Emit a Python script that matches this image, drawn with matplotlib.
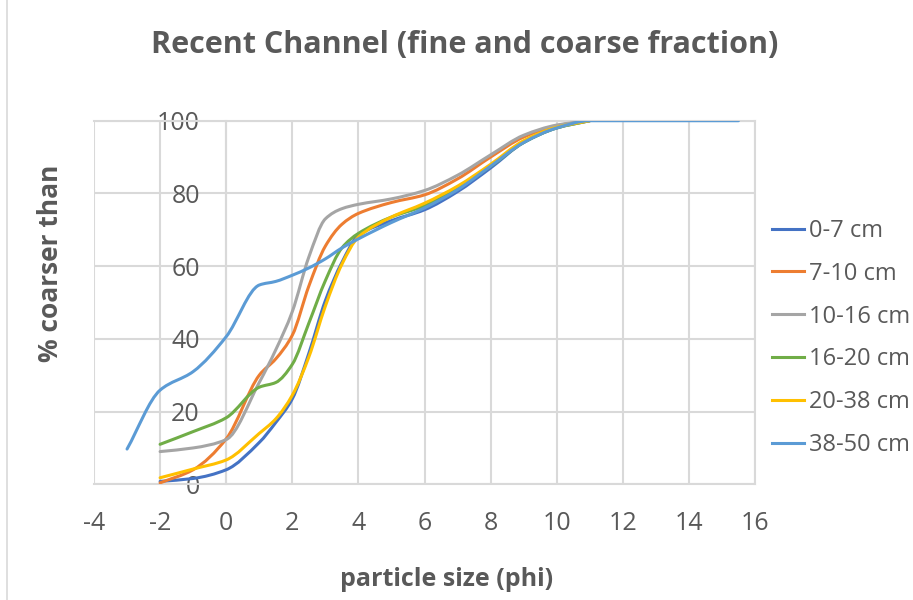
import matplotlib.pyplot as plt
from matplotlib.path import Path
from matplotlib.patches import PathPatch
from matplotlib.lines import Line2D

plt.rcParams['font.family'] = ['Open Sans', 'DejaVu Sans']
plt.rcParams['axes.unicode_minus'] = False

# particle size (phi) sample points
phi = [-2, -1, 0, 1, 1.5, 2, 2.5, 3, 3.5, 4, 5, 6, 7, 8, 9, 10, 11]
phi_deep = [-3, -2, -1, 0, 1, 1.5, 2, 2.5, 3, 3.5, 4, 5, 6, 7, 8, 9, 10, 11, 12, 15.5]

# % coarser than, per depth interval
cm_0_7 = [0.8, 1.6, 4, 11.5, 17, 23.5, 36, 50.5, 61, 68.5, 72.5, 75.5, 80.5, 87, 94, 98, 100]
cm_7_10 = [0.4, 4, 12.5, 30, 34.5, 41, 54.5, 65.5, 71.5, 74.5, 77.5, 79.6, 84, 90, 95.5, 98.6, 100]
cm_10_16 = [9, 10, 12.3, 28, 37, 47.5, 62.5, 73, 75.8, 77, 78.5, 80.8, 85, 90.6, 96, 98.8, 100]
cm_16_20 = [11, 14.5, 18.3, 26.7, 28, 33, 44.3, 56, 65, 69, 73.5, 76.6, 81.5, 87.5, 94, 98, 100]
cm_20_38 = [1.8, 4.2, 6.7, 14, 18, 24.5, 35, 49, 60.5, 68, 73.5, 77.3, 82, 88, 94.5, 98.2, 100]
cm_38_50 = [9.7, 25.9, 31, 40.6, 54.8, 55.8, 57.5, 59.5, 62, 65, 67.5, 72, 76, 81, 87.5, 94, 98, 100, 100, 100]

labels = ['0-7 cm', '7-10 cm', '10-16 cm', '16-20 cm', '20-38 cm', '38-50 cm']
colors = ['#4472C4', '#ED7D31', '#A5A5A5', '#70AD47', '#FFC000', '#5B9BD5']

series = [(phi, cm_0_7), (phi, cm_7_10), (phi, cm_10_16),
          (phi, cm_16_20), (phi, cm_20_38), (phi_deep, cm_38_50)]

TXT = '#595959'
GRID = '#D9D9D9'


def smooth_path(xs, ys):
    # smoothed line as bezier segments through the points (monotone tangents)
    n = len(xs)
    sec = [(ys[i + 1] - ys[i]) / (xs[i + 1] - xs[i]) for i in range(n - 1)]
    d = [sec[0]]
    for i in range(1, n - 1):
        a, b = sec[i - 1], sec[i]
        if a * b <= 0:
            d.append(0.0)
        else:
            d.append(2 / (1 / a + 1 / b))
    d.append(sec[-1])
    verts = [(xs[0], ys[0])]
    codes = [Path.MOVETO]
    for i in range(n - 1):
        h = xs[i + 1] - xs[i]
        verts.append((xs[i] + h / 3, ys[i] + d[i] * h / 3))
        verts.append((xs[i + 1] - h / 3, ys[i + 1] - d[i + 1] * h / 3))
        verts.append((xs[i + 1], ys[i + 1]))
        codes += [Path.CURVE4] * 3
    return Path(verts, codes)


fig = plt.figure(figsize=(9.13, 6.0), dpi=100)
ax = fig.add_axes([94 / 913, 1 - 484.3 / 600, (755 - 94) / 913, (484.3 - 120.7) / 600])

handles = []
for (xs, ys), lab, col in zip(series, labels, colors):
    patch = PathPatch(smooth_path(xs, ys), facecolor='none', edgecolor=col,
                      lw=2.2, capstyle='round', joinstyle='round', zorder=3)
    ax.add_patch(patch)
    handles.append(Line2D([], [], color=col, lw=2.2, label=lab))

ax.set_xlim(-4, 16)
ax.set_ylim(0, 100)
ax.set_xticks(range(-4, 17, 2))
ax.set_yticks(range(0, 101, 20))
ax.grid(True, color=GRID, lw=1.5)
ax.set_axisbelow(True)

for s in ['top', 'right', 'bottom', 'left']:
    ax.spines[s].set_color(GRID)
    ax.spines[s].set_linewidth(1.5)
ax.spines['left'].set_position(('data', 0))

ax.tick_params(axis='both', length=0, labelsize=18, labelcolor=TXT)
ax.tick_params(axis='y', pad=19)
ax.tick_params(axis='x', pad=19)

fig.text(465 / 913, 1 - 45 / 600, 'Recent Channel (fine and coarse fraction)',
         ha='center', va='center', fontsize=22, fontweight='bold', color=TXT)
fig.text(50 / 913, 1 - 263 / 600, '% coarser than', rotation=90,
         ha='center', va='center', fontsize=19, fontweight='bold', color=TXT)
fig.text(447 / 913, 1 - 579 / 600, 'particle size (phi)',
         ha='center', va='center', fontsize=18, fontweight='bold', color=TXT)

fig.legend(handles=handles, loc='center left', bbox_to_anchor=(772 / 913, 1 - 338 / 600),
           frameon=False, fontsize=17, labelcolor=TXT, handlelength=1.35,
           handletextpad=0.2, labelspacing=0.8, borderpad=0, borderaxespad=0)

# chart area border on the left
fig.add_artist(Line2D([7 / 913, 7 / 913], [0, 1], color=GRID, lw=1.2))

fig.savefig('out.png', dpi=100)
